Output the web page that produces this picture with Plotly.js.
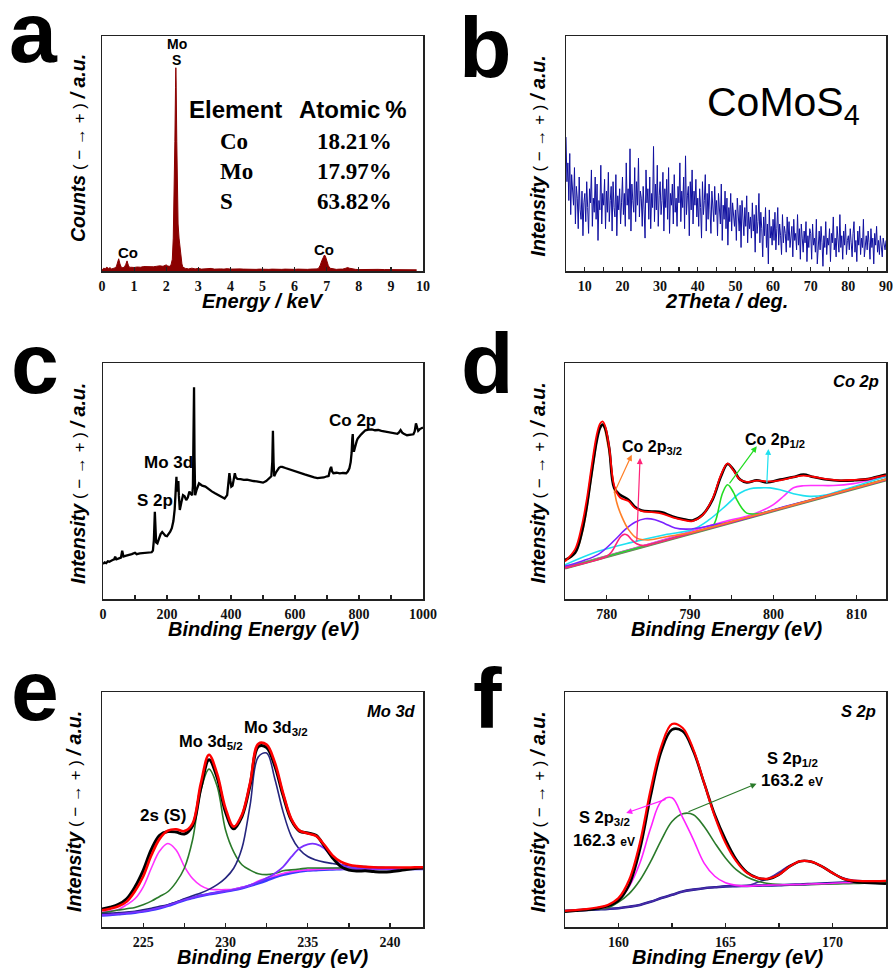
<!DOCTYPE html>
<html><head><meta charset="utf-8">
<script src="https://cdn.plot.ly/plotly-3.0.1.min.js"></script>
<style>html,body{margin:0;padding:0;background:#fff}#chart{width:893px;height:968px}</style>
</head><body><div id="chart"></div>
<script>
// ---------- DATA ----------
// (a) EDS spectrum
const edsE = [0,0.05,0.1,0.15,0.2,0.25,0.3,0.35,0.4,0.45,0.48,0.52,0.56,0.6,0.65,0.7,0.74,0.78,0.82,0.86,0.9,0.95,1.0,1.1,1.2,1.3,1.4,1.5,1.6,1.7,1.8,1.9,1.95,2.0,2.05,2.1,2.15,2.19,2.22,2.25,2.27,2.29,2.3,2.31,2.33,2.35,2.37,2.4,2.43,2.46,2.49,2.52,2.56,2.6,
 2.7,2.8,2.9,3.0,3.1,3.2,3.3,3.4,3.5,3.6,3.7,3.8,3.9,4.0,4.1,4.2,4.3,4.4,4.5,4.6,4.7,4.8,4.9,5.0,5.1,5.2,5.3,5.4,5.5,5.6,5.7,5.8,5.9,6.0,6.1,6.2,6.3,6.4,6.5,6.6,6.7,
 6.75,6.8,6.85,6.9,6.93,6.96,7.0,7.05,7.1,7.2,7.3,7.4,7.5,7.6,7.65,7.7,7.8,7.9,8.0,8.2,8.4,8.6,8.8,9.0,9.2,9.4,9.5,9.6,9.8];
const edsCounts = [0.3,1.2,1.0,1.6,1.1,1.4,0.9,1.2,1.3,2.0,3.5,5.2,3.0,1.6,1.4,1.7,2.8,4.3,2.5,1.5,1.6,1.4,1.5,1.7,1.6,1.9,1.8,1.9,1.8,2.0,2.2,2.0,2.3,2.6,2.1,2.0,2.6,5.0,14,32,55,78,86.5,80,55,32,20,14,10,6,3,1.6,1.2,1.1,
 0.9,1.2,0.9,1.1,0.8,1.0,0.9,1.1,0.8,1.0,0.9,0.8,1.0,0.8,0.9,0.7,0.9,0.8,0.7,0.9,0.8,0.7,0.8,0.7,0.9,0.7,0.8,0.7,0.8,0.7,0.8,0.7,0.9,0.7,0.8,0.7,0.8,0.7,0.8,0.8,0.9,
 1.2,2.5,4.5,6.4,6.8,6.3,4.5,2.3,1.2,0.8,0.7,0.8,0.8,1.2,1.5,1.2,0.8,0.7,0.6,0.7,0.6,0.7,0.6,0.6,0.7,0.6,0.8,0.6,0.5];
const tableElements = ['Co','Mo','S'];
const tablePercents = ['18.21%','17.97%','63.82%'];

// (b) XRD pattern, 2θ from 5° in 0.25° steps
const xrdStart = 5, xrdStep = 0.25;
const xrdIntensity = [
 57,38,46,30,50,24,41,35,28,44,20,36,31,18,40,26,22,34,15,29,
 33,21,38,27,16,35,29,43,19,31,25,40,22,37,13,30,26,45,20,33,
 28,39,18,34,25,42,21,30,36,17,38,27,23,41,15,32,26,35,20,29,
 40,24,33,19,46,28,35,22,52,17,37,30,25,44,21,38,28,48,23,34,
 31,19,36,26,14,43,29,35,22,40,18,33,27,53,21,37,26,45,19,32,
 38,24,30,42,17,35,27,39,22,44,16,33,28,37,20,41,25,31,19,36,
 29,46,21,34,27,40,18,49,24,32,36,15,38,26,43,20,34,28,39,23,
 31,19,35,27,14,38,24,30,41,17,33,22,37,26,16,34,29,21,36,24,
 30,15,33,25,20,37,13,28,22,34,18,31,11,27,21,33,17,29,24,19,
 26,13,31,20,17,28,10,30,22,15,27,19,32,12,25,18,23,14,29,17,
 24,8,28,16,21,33,12,25,18,6,23,15,27,10,20,3,26,14,19,11,
 22,13,25,9,18,27,11,20,15,7,24,12,19,16,8,23,13,21,10,17,
 19,6,22,13,16,9,24,11,18,5,20,14,8,17,12,21,4,15,10,18,
 16,5,20,11,14,8,22,3,13,17,9,19,12,2,15,10,21,7,14,11,
 18,4,16,12,23,9,14,6,19,13,8,24,10,15,5,17,11,20,7,13,
 15,9,18,12,6,16,21,8,13,4,17,11,19,7,14,10,22,6,12,15,
 9,17,12,5,18,10,14,3,16,11,19,8,13,7,15,10,6,14,11,9,
 13];

// (c) XPS survey
const survBE = [0,5,10,15,20,25,30,35,38,42,50,56,60,64,70,80,90,100,105,115,125,135,145,152,156,159,162,164,166,170,175,180,185,190,195,200,205,210,215,220,224,226,228,229.5,231,232.5,234,235.5,237,240,245,250,255,260,265,270,275,279,281,283,284.5,286,288,292,300,305,310,320,330,340,350,360,370,380,388,392,395,398,401,405,409,412,415,420,430,440,450,460,470,480,490,500,510,520,526,529,531,533,535,540,545,550,555,560,570,580,590,600,610,620,630,640,650,660,670,680,690,700,705,710,713,716,720,730,740,750,760,765,770,774,777,779,780.5,782,784,787,790,793,796,800,805,810,815,820,830,840,850,860,870,880,890,900,910,920,925,930,935,940,950,960,970,974,978,982,985,990,995,1000];
const survI = [14.8,15.5,15.2,16.0,15.8,16.3,16.5,16.8,17.9,16.8,17.2,17.5,20.5,18.0,18.3,18.6,19.0,19.6,19.0,19.3,19.4,19.5,19.6,19.8,20.5,25.0,37.0,31.0,24.0,23.6,26.0,27.5,28.4,27.5,26.8,26.6,27.5,28.5,30.0,33.0,38.0,43.4,48.0,51.8,47.0,45.5,48.5,50.0,44.0,37.7,41.0,44.0,43.5,41.9,43.0,45.5,44.5,44.0,48.0,70.0,89.7,60.0,44.0,46.0,49.0,48.5,48.0,47.6,46.5,45.6,44.8,44.0,43.2,42.6,44.0,49.0,53.3,50.0,47.6,48.0,51.0,53.3,51.5,50.9,50.8,50.5,50.6,50.2,50.0,49.8,49.5,49.3,50.0,51.2,52.0,58.0,71.3,58.0,52.0,53.5,54.7,55.6,56.0,56.0,55.5,55.0,54.5,54.0,53.6,53.2,52.8,52.4,51.8,51.5,51.2,51.2,51.5,52.0,52.1,55.0,56.0,54.0,53.3,53.5,53.2,53.4,53.3,54.0,55.4,58.0,62.0,68.0,69.9,64.0,62.4,64.0,66.0,67.0,68.0,68.5,69.5,70.2,71.0,71.5,71.8,71.9,71.5,71.6,71.2,71.0,70.8,70.6,70.4,70.0,70.6,71.6,70.5,70.0,69.4,69.6,69.8,71.0,74.4,72.5,71.3,72.0,72.4,72.7];
const survLabels = ['S 2p','Mo 3d','Co 2p'];

// (d) Co 2p
const coFitBE = [775,776.2,777,777.6,778.2,778.8,779.2,779.5,779.8,780.3,780.9,781.6,782.6,783.4,784.2,785.4,786.6,787.9,789.1,790.3,791.5,792.7,793.7,794.5,795.2,796,796.8,798,799.2,800.8,802.4,803.6,804.8,806.4,808,809.7,811.3,812.9,813.5];
const coFit = [16.0,21.0,30.8,42.0,56.5,69.5,74.3,75.3,73.5,64.5,48.0,43.0,41.5,38.5,37.2,36.8,36.2,34.6,33.5,33.0,35.5,42.5,52.5,57.5,54.5,50.5,49.6,50.2,49.8,50.3,51.6,52.3,51.8,50.8,50.3,50.5,50.8,52.0,52.4];
const coRaw = [16.6,19.5,28.0,39.0,53.5,67.0,72.5,73.9,72.5,64.0,47.0,44.2,42.1,39.0,37.5,37.1,36.7,35.0,33.9,33.3,35.7,42.1,51.9,57.2,54.8,50.6,49.4,50.3,49.4,50.6,51.7,52.7,51.7,50.6,50.1,50.3,50.8,52.2,52.7];
const coOrBE = [775,775.8,776.6,777.4,778,778.6,779,779.5,780.2,780.8,781.2,781.8,782.6,783.6,785,787,790.3,795,800,805,810,813.5];
const coOr = [16.0,18.0,22.3,33.6,47.7,61.9,70.5,74.0,64.0,49.0,41.0,35.0,29.5,25.8,25.0,26.3,28.3,32.8,37.6,42.4,47.3,50.7];
const coPkBE = [775,780,780.6,781.2,781.7,782.1,782.5,783,783.6,784.4,785.5,790,800,813.5];
const coPk = [13.2,18.1,20.0,23.7,26.5,27.4,27.0,25.1,23.4,22.6,23.4,27.8,37.5,50.6];
const coViBE = [775,777,779,781,782.2,783.4,784.6,785.8,787,788.2,789.5,791,793,796,800,805,813.5];
const coVi = [13.9,16.0,18.9,25.1,29.4,32.5,34.0,33.6,31.9,30.1,29.6,30.1,31.5,33.5,37.8,42.5,50.6];
const coCyBE = [775,779,783,787,790.3,792.3,794.4,796,797.2,798.4,799.6,800.8,802.4,804.4,806.4,808.4,810.4,813.5];
const coCy = [14.5,20.2,24.0,27.2,29.4,33.6,39.9,44.9,46.7,47.1,47.1,46.3,44.6,43.5,44.2,46.3,48.4,51.9];
const coGrBE = [775,785,791,791.9,792.7,793.1,793.9,794.5,795.2,795.6,796.2,796.8,797.6,798.5,800,805,813.5];
const coGr = [13.2,22.9,28.7,29.6,30.8,33.6,44.9,48.4,45.2,42.1,38.6,36.4,36.0,36.3,37.6,42.4,50.7];
const coMgBE = [775,785,790,794,796.8,798.4,800,801.3,802.4,803.6,805.2,807.2,809.6,811.6,813.5];
const coMg = [13.3,23.2,28.6,32.7,35.1,37.1,40.0,43.8,47.1,48.0,48.1,48.1,48.9,50.3,51.7];
const coBgBE = [775,813.5];
const coBg = [13.1,50.5];

// (e) Mo 3d, BE from 222.5 eV in 0.5 eV steps
const moStart = 222.5, moStep = 0.5;
const moFit = [7.1,7.8,8.8,10.8,15.2,21.5,30.5,37.5,41.0,41.6,40.8,44.0,61.0,73.3,65.0,50.6,42.7,47.8,61.5,78.0,77.6,70.0,57.0,46.0,41.0,39.8,38.8,35.0,30.5,27.8,26.5,25.9,25.6,25.4,25.3,25.3,25.3,25.3,25.4,25.4];
const moRaw = [7.6,8.4,9.6,12.0,17.0,24.0,33.0,39.0,40.6,40.4,39.6,43.0,59.0,71.2,63.5,49.0,41.8,47.0,60.5,76.8,76.4,68.5,56.0,45.5,40.8,40.0,39.0,34.5,29.5,25.8,24.2,23.8,23.9,23.6,23.4,23.5,23.9,24.5,24.9,25.1];
const mo2s = [6.2,6.8,7.5,9.5,12.0,17.0,25.1,32.3,35.5,32.8,25.8,20.6,17.6,16.1,15.9,15.9,16.1,16.9,17.8,19.6,20.8,21.8,22.8,23.5,24.0,24.3,24.5,24.6,24.7,24.8,24.8,24.8,24.8,24.8,24.8,24.8,24.8,24.8,24.8,24.8];
const mo3d52 = [6.0,6.6,7.2,7.8,8.3,9.5,11.0,13.0,15.0,19.0,25.0,37.0,58.0,67.2,59.8,41.4,32.0,26.5,24.2,22.7,22.3,22.8,23.9,24.3,24.7,25.1,25.1,25.1,25.1,25.1,25.1,25.0,25.0,25.0,25.0,25.0,25.0,25.0,25.0,25.0];
const mo3d32 = [5.7,5.9,6.1,6.4,6.7,7.3,8.0,8.8,9.5,10.6,12.0,13.3,14.5,16.0,18.0,20.8,25.0,33.5,52.0,72.5,74.0,63.0,49.0,38.6,33.0,30.0,28.5,27.6,27.0,26.5,26.1,25.9,25.7,25.5,25.4,25.3,25.2,25.1,25.1,25.0];
const moExtra = [5.1,5.3,5.6,5.9,6.3,6.8,7.4,8.2,9.2,10.4,11.6,12.5,13.4,14.1,14.7,15.3,15.9,16.7,17.8,19.2,20.8,22.8,25.6,29.8,33.5,35.2,35.3,33.5,29.5,26.6,25.4,25.0,24.9,24.9,24.9,24.9,24.9,24.9,24.9,24.9];
const moBg = [5.0,5.2,5.5,5.8,6.2,6.7,7.3,8.1,9.1,10.3,11.5,12.4,13.3,14.0,14.6,15.2,15.8,16.6,17.6,18.7,19.9,21.2,22.3,23.1,23.7,24.1,24.3,24.5,24.6,24.7,24.8,24.8,24.8,24.8,24.8,24.8,24.8,24.8,24.8,24.8];

// (f) S 2p, BE from 157.5 eV in 0.5 eV steps
const sStart = 157.5, sStep = 0.5;
const sFit = [6.9,7.2,7.6,8.3,9.4,12.3,20.1,35.8,58.4,76.9,86.4,84.7,75.5,61.3,47.1,35.8,28.0,23.0,20.9,20.6,22.3,25.8,28.0,27.8,25.8,23.0,20.6,19.7,19.5,19.5,19.6];
const sRaw = [6.5,6.9,7.3,7.9,8.9,11.3,18.0,33.0,55.6,74.8,84.0,83.3,74.8,61.3,47.8,37.2,28.7,23.3,20.9,20.4,22.3,25.8,28.0,27.8,25.8,23.0,20.5,19.3,18.9,18.6,18.4];
const s2p32 = [6.9,7.1,7.4,7.9,8.7,11.5,17.2,27.2,42.0,53.5,55.0,46.5,37.2,27.2,21.6,18.8,17.7,17.4,17.6,17.8,17.9,18.0,18.1,18.3,18.4,18.6,18.8,19.0,19.2,19.4,19.5];
const s2p12 = [6.9,7.1,7.3,7.6,8.2,10.6,14.2,19.9,27.8,37.0,44.9,48.2,47.8,42.8,35.8,29.4,24.4,21.3,19.5,18.5,18.1,18.0,18.0,18.1,18.2,18.3,18.4,18.5,18.6,18.7,18.8];
const sSat = [6.9,7.1,7.3,7.5,7.7,8.0,8.6,9.4,10.7,12.3,13.7,15.1,15.9,16.5,16.9,17.3,17.4,17.5,19.0,20.7,23.3,26.2,28.0,27.9,25.8,23.0,20.9,19.9,19.6,19.5,19.5];
const sBg = [6.9,7.1,7.3,7.5,7.7,8.0,8.6,9.4,10.7,12.3,13.7,15.1,15.9,16.5,16.9,17.3,17.4,17.5,17.6,17.7,17.8,18.0,18.1,18.3,18.5,18.7,18.9,19.1,19.3,19.4,19.5];

// ---------- LAYOUT HELPERS ----------
const W = 893, H = 968;
const X = px => px / W, Y = py => 1 - py / H;
const SANS = 'Liberation Sans', SERIF = 'Liberation Serif';
const FRAME = '#222';

function xAxis(d, range, dtick, tick0, minor, anchor) {
  return {domain: d, range: range, anchor: anchor, showline: true, linecolor: FRAME, linewidth: 1.5, mirror: true,
    ticks: 'inside', ticklen: 4, tickwidth: 1.2, tickcolor: FRAME, dtick: dtick, tick0: tick0,
    minor: minor ? {ticks: 'inside', dtick: minor, ticklen: 4, tickwidth: 1.2, tickcolor: FRAME} : undefined,
    tickfont: {family: SERIF, size: 14, color: '#111', weight: 700}, ticklabelstandoff: 2,
    showgrid: false, zeroline: false};
}
function yAxis(d, anchor) {
  return {domain: d, range: [0, 100], anchor: anchor, showline: true, linecolor: FRAME, linewidth: 1.5, mirror: true,
    ticks: '', showticklabels: false, showgrid: false, zeroline: false};
}
const colL = [X(102), X(423)], colR = [X(565), X(886)];
const row1 = [Y(271), Y(36)], row2 = [Y(599), Y(363)], row3 = [Y(927), Y(692)];

function line(x, y, xa, ya, color, width, shape) {
  return {type: 'scatter', mode: 'lines', x: x, y: y, xaxis: xa, yaxis: ya,
    line: {color: color, width: width, shape: shape || 'linear', smoothing: 1}, hoverinfo: 'skip'};
}
function gridLine(x0, dx, y, xa, ya, color, width) {
  return {type: 'scatter', mode: 'lines', x0: x0, dx: dx, y: y, xaxis: xa, yaxis: ya,
    line: {color: color, width: width, shape: 'spline', smoothing: 1}, hoverinfo: 'skip'};
}

const traces = [
  // a
  {type: 'scatter', mode: 'lines', x: edsE, y: edsCounts, xaxis: 'x', yaxis: 'y', fill: 'tozeroy',
   fillcolor: '#8b0000', line: {color: '#8b0000', width: 1}, hoverinfo: 'skip'},
  // b
  {type: 'scatter', mode: 'lines', x0: xrdStart, dx: xrdStep, y: xrdIntensity, xaxis: 'x2', yaxis: 'y2',
   line: {color: '#1010a0', width: 1}, hoverinfo: 'skip'},
  // c
  line(survBE, survI, 'x3', 'y3', '#000', 2.3),
  // d
  line(coBgBE, coBg, 'x4', 'y4', '#5e9e3a', 3),
  line(coBgBE, coBg, 'x4', 'y4', '#a040b8', 1.8),
  line(coMgBE, coMg, 'x4', 'y4', '#ff33ff', 1.6, 'spline'),
  line(coCyBE, coCy, 'x4', 'y4', '#1ee0f0', 1.6, 'spline'),
  line(coGrBE, coGr, 'x4', 'y4', '#22dd22', 1.6, 'spline'),
  line(coViBE, coVi, 'x4', 'y4', '#7a22ff', 1.6, 'spline'),
  line(coPkBE, coPk, 'x4', 'y4', '#ff2277', 1.6, 'spline'),
  line(coOrBE, coOr, 'x4', 'y4', '#ff7f27', 1.6, 'spline'),
  line(coFitBE, coRaw, 'x4', 'y4', '#000', 2.6, 'spline'),
  line(coFitBE, coFit, 'x4', 'y4', '#ff0000', 1.8, 'spline'),
  // e
  gridLine(moStart, moStep, moBg, 'x5', 'y5', '#3a3aff', 3),
  gridLine(moStart, moStep, mo2s, 'x5', 'y5', '#ff33ff', 1.6),
  gridLine(moStart, moStep, mo3d52, 'x5', 'y5', '#2a7a2a', 1.6),
  gridLine(moStart, moStep, mo3d32, 'x5', 'y5', '#25257e', 1.6),
  gridLine(moStart, moStep, moExtra, 'x5', 'y5', '#7a30ff', 1.8),
  gridLine(moStart, moStep, moRaw, 'x5', 'y5', '#000', 3),
  gridLine(moStart, moStep, moFit, 'x5', 'y5', '#ff0000', 2.6),
  // f
  gridLine(sStart, sStep, sBg, 'x6', 'y6', '#1a1a8c', 2.6),
  gridLine(sStart, sStep, sSat, 'x6', 'y6', '#4a2aa8', 1.6),
  gridLine(sStart, sStep, s2p12, 'x6', 'y6', '#2a7a2a', 1.6),
  gridLine(sStart, sStep, s2p32, 'x6', 'y6', '#ff22ff', 1.6),
  gridLine(sStart, sStep, sRaw, 'x6', 'y6', '#000', 2.6),
  gridLine(sStart, sStep, sFit, 'x6', 'y6', '#ff0000', 2.2)
];

// ---------- ANNOTATIONS ----------
const ann = [];
function txt(text, px, py, size, opts) {
  ann.push(Object.assign({text: text, xref: 'paper', yref: 'paper', x: X(px), y: Y(py), showarrow: false,
    xanchor: 'center', yanchor: 'middle', font: {family: SANS, size: size, color: '#000'}}, opts || {}));
}
function arrow(xa, ya, hx, hy, tx, ty, color) {
  ann.push({text: '', xref: xa, yref: ya, axref: xa, ayref: ya, x: hx, y: hy, ax: tx, ay: ty, showarrow: true,
    arrowhead: 2, arrowsize: 1, arrowwidth: 1.2, arrowcolor: color, standoff: 0, startstandoff: 0});
}
// panel letters
[['a', 33, 32], ['b', 485, 47], ['c', 35, 363], ['d', 488, 363], ['e', 35, 690], ['f', 487, 698]].forEach(l =>
  txt(l[0], l[1], l[2], 86, {font: {family: SANS, size: 86, color: '#000', weight: 700}}));

// axis titles
const bi = s => '<b><i>' + s + '</i></b>';
const yt = w => bi(w) + '<span style="font-size:17px"> ( − → + ) </span>' + bi('/ a.u.');
txt(bi('Energy / keV'), 263, 301, 20);
txt(bi('2Theta / deg.'), 726, 301, 20);
txt(bi('Binding Energy (eV)'), 263, 629, 20);
txt(bi('Binding Energy (eV)'), 726, 629, 20);
txt(bi('Binding Energy (eV)'), 272, 957, 20);
txt(bi('Binding Energy (eV)'), 727, 957, 20);
txt(yt('Counts'), 78, 148, 19.5, {textangle: -90});
txt(yt('Intensity'), 537.5, 156, 19.5, {textangle: -90});
txt(yt('Intensity'), 78, 484, 19.5, {textangle: -90});
txt(yt('Intensity'), 537.5, 483, 19.5, {textangle: -90});
txt(yt('Intensity'), 74, 812, 19.5, {textangle: -90});
txt(yt('Intensity'), 537.5, 812, 19.5, {textangle: -90});

// (a) labels and table
txt('<b>Mo</b>', 176.7, 44, 14);
txt('<b>S</b>', 176.7, 60, 14);
txt('<b>Co</b>', 128, 252, 15);
txt('<b>Co</b>', 324, 249, 15);
txt('<b>Element</b>', 235, 109, 24);
txt('<b>Atomic\u2009%</b>', 352, 109, 24);
tableElements.forEach((el, i) => {
  const py = [141, 171, 201.5][i];
  txt('<b>' + el + '</b>', 218, py, 23, {xanchor: 'left', font: {family: SERIF, size: 23, color: '#000'}});
  txt('<b>' + tablePercents[i] + '</b>', 315, py, 23, {xanchor: 'left', font: {family: SERIF, size: 23, color: '#000'}});
});
// (b)
txt('CoMoS<sub>4</sub>', 705, 105, 41, {xanchor: 'left'});
// (c)
txt('<b>' + survLabels[0] + '</b>', 154.7, 500.7, 17);
txt('<b>' + survLabels[1] + '</b>', 168, 462.7, 17);
txt('<b>' + survLabels[2] + '</b>', 352.7, 421, 17);
// (d)
txt(bi('Co 2p'), 881, 381, 16.5, {xanchor: 'right'});
txt('<b>Co 2p<sub>3/2</sub></b>', 620, 447, 16, {xanchor: 'left'});
txt('<b>Co 2p<sub>1/2</sub></b>', 742.7, 440, 16, {xanchor: 'left'});
arrow('x4', 'y4', 783.0, 61.1, 780.8, 44.2, '#ff7f27');
arrow('x4', 'y4', 784.0, 59.7, 783.6, 23.7, '#ff2277');
arrow('x4', 'y4', 798.0, 64.7, 794.6, 48.4, '#22dd22');
arrow('x4', 'y4', 799.4, 63.6, 799.2, 48.4, '#1ee0f0');
// (e)
txt(bi('Mo 3d'), 418.3, 710.7, 16.5, {xanchor: 'right'});
txt('<b>2s (S)</b>', 163.3, 815.7, 17);
txt('<b>Mo 3d<sub>5/2</sub></b>', 176.7, 741.5, 16.5, {xanchor: 'left'});
txt('<b>Mo 3d<sub>3/2</sub></b>', 241.7, 728, 16.5, {xanchor: 'left'});
// (f)
txt(bi('S 2p'), 878.3, 711, 16.5, {xanchor: 'right'});
txt('<b>S 2p<sub>1/2</sub></b>', 765, 759, 16.5, {xanchor: 'left'});
txt('<b>163.2 <span style="font-size:12px">eV</span></b>', 759, 780, 17, {xanchor: 'left'});
txt('<b>S 2p<sub>3/2</sub></b>', 576.7, 818, 16.5, {xanchor: 'left'});
txt('<b>162.3 <span style="font-size:12px">eV</span></b>', 571, 840, 17, {xanchor: 'left'});
arrow('x6', 'y6', 160.36, 48.5, 162.27, 54.5, '#ff22ff');
arrow('x6', 'y6', 166.45, 61.0, 163.2, 48.8, '#2a7a2a');

const layout = {
  width: W, height: H, margin: {l: 0, r: 0, t: 0, b: 0}, paper_bgcolor: '#fff', plot_bgcolor: '#fff',
  showlegend: false, font: {family: SANS, color: '#000'},
  xaxis:  xAxis(colL, [0, 10], 1, 0, null, 'y'),
  yaxis:  yAxis(row1, 'x'),
  xaxis2: xAxis([X(566), X(886)], [5, 90], 10, 10, 5, 'y2'),
  yaxis2: yAxis(row1, 'x2'),
  xaxis3: xAxis([X(103), X(423)], [0, 1000], 200, 0, 100, 'y3'),
  yaxis3: yAxis(row2, 'x3'),
  xaxis4: xAxis(colR, [775, 813.5], 10, 780, 5, 'y4'),
  yaxis4: yAxis(row2, 'x4'),
  xaxis5: xAxis(colL, [222.5, 242], 5, 225, 2.5, 'y5'),
  yaxis5: yAxis(row3, 'x5'),
  xaxis6: xAxis(colR, [157.5, 172.5], 5, 160, 2.5, 'y6'),
  yaxis6: yAxis(row3, 'x6'),
  annotations: ann
};
Plotly.newPlot('chart', traces, layout, {staticPlot: true, displayModeBar: false});
</script></body></html>
